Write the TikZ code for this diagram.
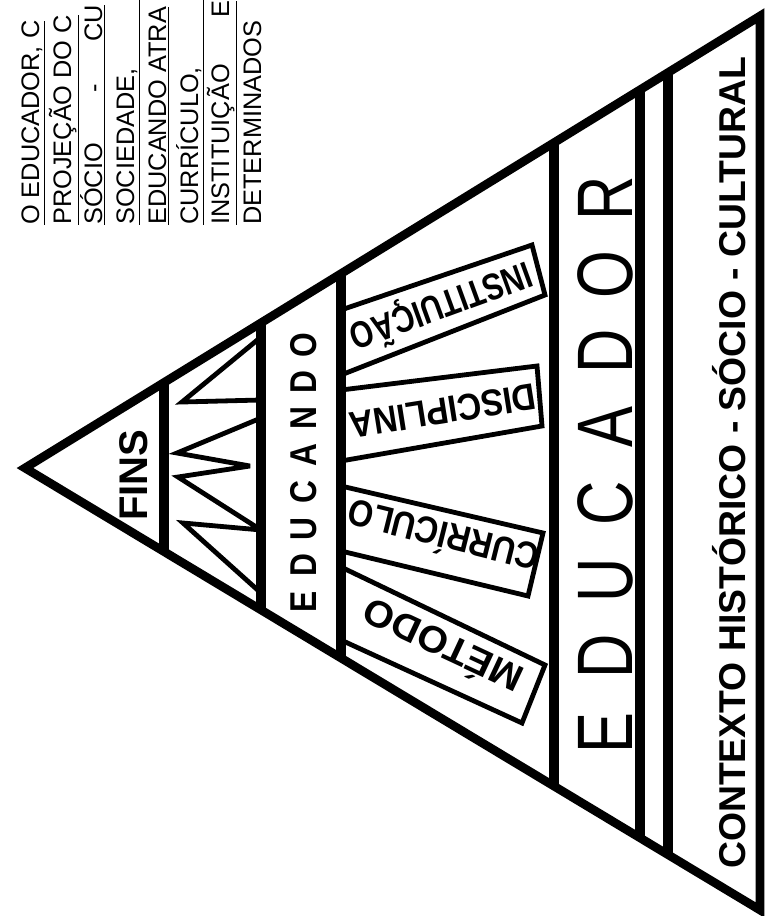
\documentclass[tikz,border=0pt]{standalone}
\usepackage{fontspec}
\setmainfont{Liberation Sans}
\usetikzlibrary{calc}

\begin{document}
\begin{tikzpicture}[x=0.75pt, y=-0.75pt,
    rim/.style={line width=6.5pt, line join=miter},
    sepline/.style={line width=7pt},
    boxline/.style={line width=3.6pt, line join=miter, miter limit=4},
    boxtext/.style={font=\fontsize{28}{34}\selectfont\bfseries, inner sep=0pt},
    bigtext/.style={font=\fontsize{59}{70}\selectfont, inner sep=0pt},
    note/.style={font=\fontsize{19}{23}\selectfont, rotate=90, anchor=base west, inner sep=0pt}]
  \useasboundingbox (0,0) rectangle (769,916);
  % corners of the pyramid
  \coordinate (apex) at (25,468);
  \coordinate (topc) at (760,16);
  \coordinate (botc) at (760,910);
  % vertical bands
  \foreach \sx in {164,261,341,554,640,668} {
    \pgfmathsetmacro\tpos{(\sx-25)/735}
    \draw[sepline] ($(apex)!\tpos!(topc)$) -- ($(apex)!\tpos!(botc)$);
  }
  \draw[rim] (apex) -- (topc) -- (botc) -- cycle;

  % Fins
  \node[font=\fontsize{30}{36}\selectfont\bfseries, rotate=90, anchor=base, inner sep=0pt] (fins) at (147,475) {FINS};
  % zigzag
  \draw[boxline] (261,337) -- (182,402) -- (261,400);
  \draw[boxline] (261,418) -- (177,453) -- (250,466) -- (178,477) -- (261,530) -- (183,523) -- (261,593);

  % Educando
  \foreach \ch [count=\i from 0] in {E,D,U,C,A,N,D,O} {
    \node[boxtext, rotate=90, xscale=0.85, anchor=base] (educando\i) at (316,{602-36.7*\i}) {\ch};
  }

  % beams
  \draw[boxline] (341,310) -- (532,245) -- (545,295) -- (341,375);
  \draw[boxline] (341,390) -- (537,366) -- (542,426) -- (341,461);
  \draw[boxline] (341,486) -- (543,533) -- (528,596) -- (341,551);
  \draw[boxline] (341,567) -- (545,665) -- (522,723) -- (341,640);
  \node[boxtext, rotate=200, xscale=0.8] (inst) at (441,306) {INSTITUIÇÃO};
  \node[boxtext, rotate=189, xscale=0.89] (disc) at (443,411) {DISCIPLINA};
  \node[boxtext, rotate=166, xscale=0.87] (curr) at (443,538) {CURRÍCULO};
  \node[boxtext, rotate=155, xscale=1.05] (meto) at (442,648) {MÉTODO};

  % Educador
  \foreach \ch [count=\i from 0] in {E,D,U,C,A,D,O,R} {
    \node[bigtext, rotate=90, xscale=0.78, anchor=base] (educador\i) at (632,{733-76.4*\i}) {\ch};
  }

  % contexto
  \node[boxtext, rotate=90, anchor=base] (contexto) at (745,463) {CONTEXTO HISTÓRICO - SÓCIO - CULTURAL};

  % text block, top left
  \node[note] (note1) at (39,225) {\underline{O EDUCADOR, C}};
  \node[note] (note2) at (71,225) {\underline{PROJEÇÃO DO C}};
  \node[note] (note3) at (102,225) {\underline{SÓCIO\hspace{38pt}-\hspace{32pt}CU}};
  \node[note] (note4) at (134,225) {\underline{SOCIEDADE,\hspace{60pt}}};
  \node[note] (note5) at (166,225) {\underline{EDUCANDO ATRA}};
  \node[note] (note6) at (198,225) {\underline{CURRÍCULO,\hspace{60pt}}};
  \node[note] (note7) at (229,225) {\underline{INSTITUIÇÃO\hspace{35pt}E}};
  \node[note] (note8) at (261,225) {DETERMINADOS};
\end{tikzpicture}
\end{document}
